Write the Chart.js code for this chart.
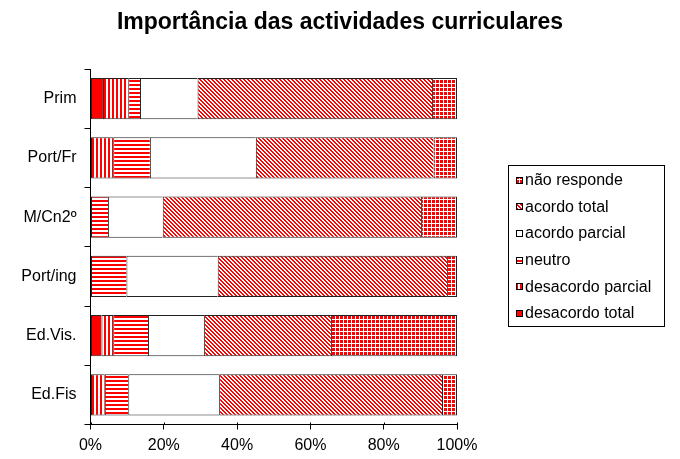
<!DOCTYPE html>
<html>
<head>
<meta charset="utf-8">
<title>Importância das actividades curriculares</title>
<script src="https://cdn.jsdelivr.net/npm/chart.js@4.4.1/dist/chart.umd.min.js"></script>
<style>
  body { margin: 0; background: #fff; }
  #wrap { width: 680px; height: 459px; }
</style>
</head>
<body>
<div id="wrap"><canvas id="myChart" width="680" height="459"></canvas></div>
<script>
// data (percent of answers)
const categories = ['Prim', 'Port/Fr', 'M/Cn2º', 'Port/ing', 'Ed.Vis.', 'Ed.Fis'];
const desacordoTotal   = [3.4, 0, 0, 0, 3.0, 0];
const desacordoParcial = [6.9, 6.2, 0, 0, 3.2, 3.9];
const neutro           = [3.2, 10.0, 4.8, 9.8, 9.5, 6.4];
const acordoParcial    = [15.7, 28.9, 14.9, 24.9, 15.3, 24.8];
const acordoTotal      = [64.0, 48.5, 70.5, 62.6, 34.6, 60.8];
const naoResponde      = [6.8, 6.4, 9.8, 2.7, 34.4, 4.1];
const xTicks = [0, 20, 40, 60, 80, 100];

const FONT = '"Liberation Sans", Arial, sans-serif';
const RED = '#ff0000';

// little 4x4 tiles for the hatch fills
function makePattern(draw) {
  let c = document.createElement('canvas');
  c.width = 4; c.height = 4;
  let g = c.getContext('2d');
  g.fillStyle = '#fff';
  g.fillRect(0, 0, 4, 4);
  g.fillStyle = RED;
  draw(g);
  return g.createPattern(c, 'repeat');
}

const solid = RED;
const vStripes = makePattern(g => g.fillRect(0, 0, 2, 4));
const hStripes = makePattern(g => g.fillRect(0, 0, 4, 2));
const diag = makePattern(g => {
  for (let y = 0; y < 4; y++)
    for (let x = 0; x < 4; x++)
      if ((x - y + 8) % 4 < 2) g.fillRect(x, y, 1, 1);
});
const grid = makePattern(g => {
  g.fillRect(0, 0, 4, 4);
  g.fillStyle = '#fff';
  g.fillRect(3, 0, 1, 4);
  g.fillRect(0, 3, 4, 1);
});

const edge = {top: 1, bottom: 1, left: 1, right: 0};

function ds(label, data, fill, last) {
  return {
    label: label,
    data: data,
    backgroundColor: fill,
    borderColor: '#222',
    borderWidth: last ? {top: 1, bottom: 1, left: 1, right: 1} : edge,
    borderSkipped: false,
    barPercentage: 0.7,
    categoryPercentage: 1
  };
}

// title + boxed legend drawn by hand so the plot area stays where it is
const extras = {
  id: 'extras',
  afterDraw(chart) {
    const ctx = chart.ctx;
    ctx.save();
    ctx.fillStyle = '#000';
    ctx.font = 'bold 23px ' + FONT;
    ctx.textAlign = 'center';
    ctx.textBaseline = 'middle';
    ctx.fillText('Importância das actividades curriculares', chart.width / 2, 23);

    // little ticks poke a bit into the plot, like the original
    const a = chart.chartArea;
    ctx.strokeStyle = '#000';
    ctx.lineWidth = 1;
    ctx.beginPath();
    xTicks.forEach(v => {
      let x = Math.round(chart.scales.x.getPixelForValue(v)) + 0.5;
      ctx.moveTo(x, a.bottom - 2);
      ctx.lineTo(x, a.bottom);
    });
    ctx.stroke();

    // legend box
    ctx.strokeRect(508.5, 165.5, 156, 161);
    ctx.font = '16px ' + FONT;
    ctx.textAlign = 'left';
    const sets = chart.data.datasets.slice().reverse();
    sets.forEach((d, i) => {
      let cy = 180.5 + i * 26.7;
      let top = Math.round(cy - 4);
      ctx.fillStyle = d.backgroundColor;
      ctx.fillRect(516, top, 7, 7);
      ctx.strokeStyle = '#000';
      ctx.strokeRect(516.5, top + 0.5, 6, 6);
      ctx.fillStyle = '#000';
      ctx.fillText(d.label, 525, cy);
    });
    ctx.restore();
  }
};

const ctx = document.getElementById('myChart').getContext('2d');
const chart = new Chart(ctx, {
  type: 'bar',
  data: {
    labels: categories,
    datasets: [
      ds('desacordo total', desacordoTotal, solid),
      ds('desacordo parcial', desacordoParcial, vStripes),
      ds('neutro', neutro, hStripes),
      ds('acordo parcial', acordoParcial, '#fff'),
      ds('acordo total', acordoTotal, diag),
      ds('não responde', naoResponde, grid, true)
    ]
  },
  options: {
    indexAxis: 'y',
    responsive: false,
    animation: false,
    layout: { padding: { top: 69, right: 223, left: 0, bottom: 0 } },
    plugins: {
      legend: { display: false },
      title: { display: false },
      tooltip: { enabled: false }
    },
    scales: {
      x: {
        stacked: true,
        min: 0,
        max: 100,
        afterFit: s => { s.height = 34.5; },
        afterBuildTicks: s => { s.ticks = xTicks.map(v => ({value: v})); },
        ticks: {
          callback: v => v + '%',
          color: '#000',
          font: { family: FONT, size: 16 },
          padding: 6,
          maxRotation: 0
        },
        grid: { drawOnChartArea: false, color: '#000', tickLength: 5 },
        border: { color: '#000' }
      },
      y: {
        stacked: true,
        afterFit: s => { s.width = 90.5; },
        ticks: {
          color: '#000',
          font: { family: FONT, size: 16 },
          padding: 8
        },
        grid: { drawOnChartArea: false, color: '#000', tickLength: 6 },
        border: { color: '#000' }
      }
    }
  },
  plugins: [extras]
});
</script>
</body>
</html>
